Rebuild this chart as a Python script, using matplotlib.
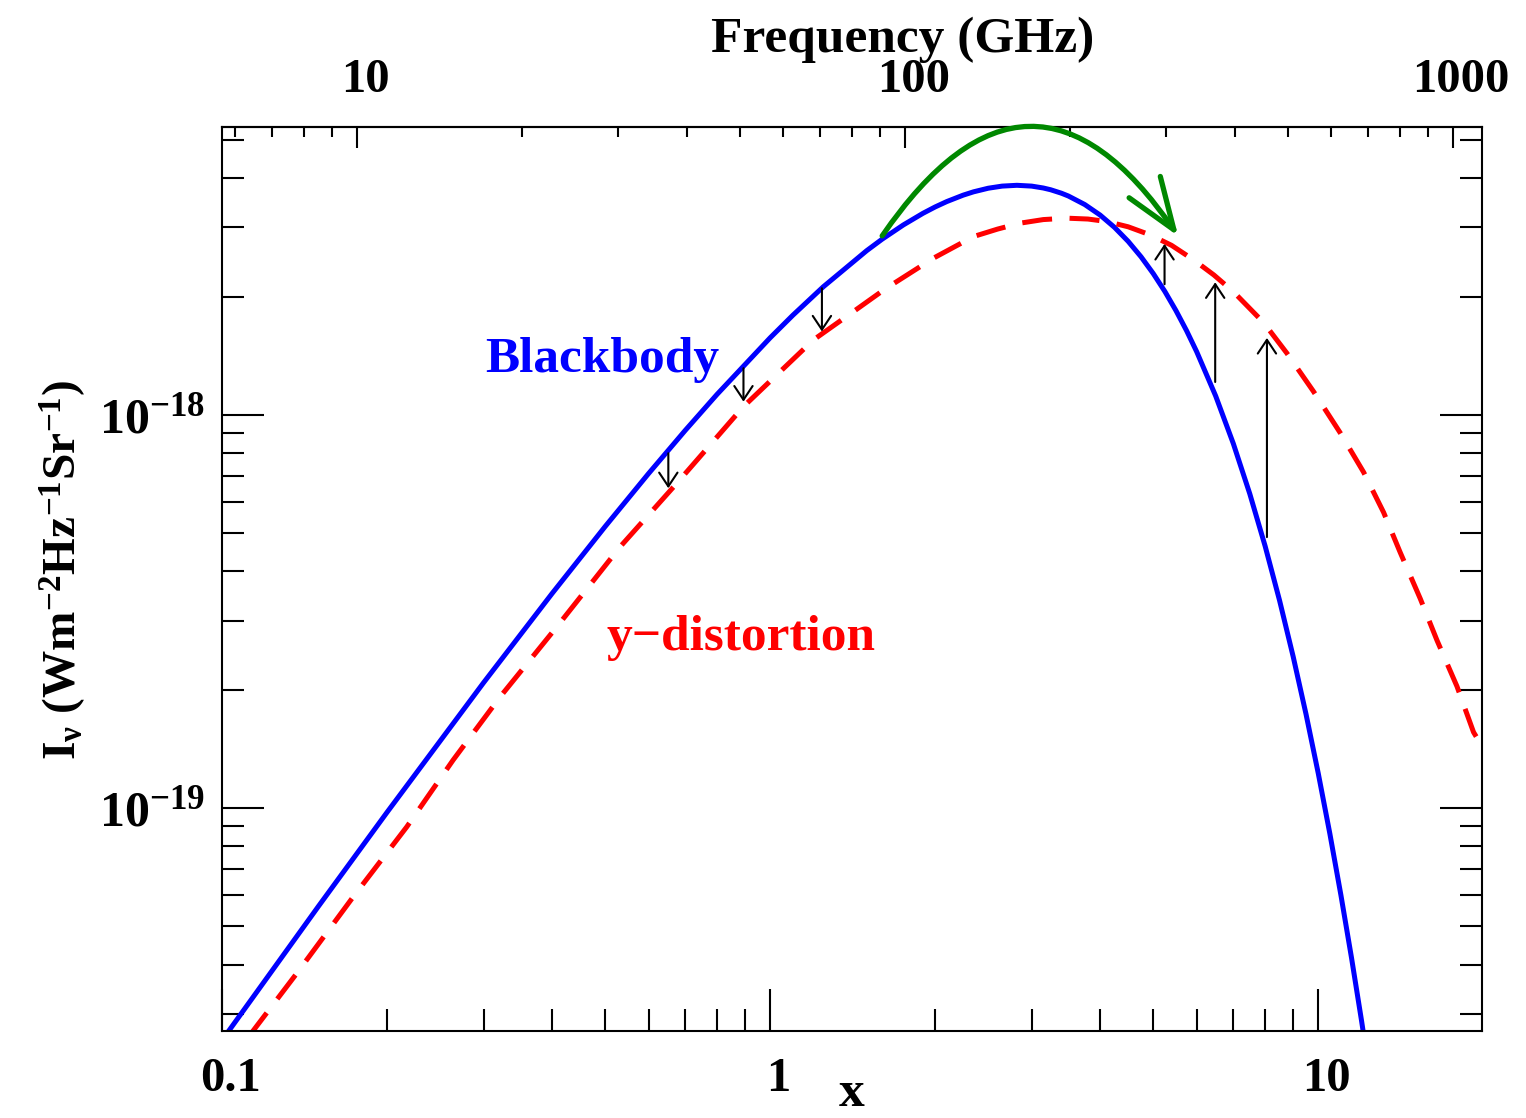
import matplotlib
matplotlib.use('Agg')
import matplotlib.pyplot as plt
from matplotlib import ticker
from matplotlib.transforms import ScaledTranslation

# Blackbody spectrum (x = h nu / k T)
bb_x = [0.1, 0.15, 0.2, 0.3, 0.4, 0.5, 0.6, 0.7, 0.8, 1.0, 1.1, 1.25, 1.5,
        1.6, 1.75, 1.9, 2.0, 2.1, 2.25, 2.35, 2.5, 2.65, 2.82, 3.0, 3.15,
        3.25, 3.4, 3.5, 3.75, 4.0, 4.25, 4.5, 4.75, 5.0, 5.25, 5.5, 5.75,
        6.0, 6.5, 7.0, 7.5, 8.0, 8.5, 9.0, 9.5, 10.0, 10.5, 11.0, 11.5, 12.0,
        12.5]
bb_I = [2.567e-20, 5.631e-20, 9.756e-20, 2.084e-19, 3.513e-19, 5.202e-19,
        7.094e-19, 9.135e-19, 1.128e-18, 1.571e-18, 1.793e-18, 2.118e-18,
        2.617e-18, 2.798e-18, 3.043e-18, 3.257e-18, 3.381e-18, 3.489e-18,
        3.623e-18, 3.694e-18, 3.773e-18, 3.820e-18, 3.838e-18, 3.820e-18,
        3.778e-18, 3.739e-18, 3.664e-18, 3.605e-18, 3.429e-18, 3.224e-18,
        2.999e-18, 2.764e-18, 2.525e-18, 2.289e-18, 2.061e-18, 1.843e-18,
        1.639e-18, 1.449e-18, 1.117e-18, 8.452e-19, 6.303e-19, 4.639e-19,
        3.374e-19, 2.429e-19, 1.733e-19, 1.226e-19, 8.607e-20, 6.002e-20,
        4.160e-20, 2.867e-20, 1.965e-20]

# y-distorted spectrum (red dashed)
yd_x = [0.1, 0.1141, 0.1369, 0.1734, 0.2173, 0.264, 0.3217, 0.4082, 0.5325,
        0.6755, 0.8939, 1.1995, 1.419, 1.62, 1.986, 2.35, 2.6, 2.859, 3.15,
        3.478, 3.8, 4.116, 4.5, 4.936, 5.4, 5.924, 6.45, 7.006, 7.947, 8.768,
        9.804, 10.97, 12.1, 13.16, 14.11, 15.35, 16.47, 17.91, 19.2, 19.7]
yd_I = [2.08e-20, 2.72e-20, 3.80e-20, 5.94e-20, 8.96e-20, 1.325e-19,
        1.919e-19, 2.892e-19, 4.62e-19, 6.70e-19, 1.05e-18, 1.552e-18,
        1.832e-18, 2.09e-18, 2.505e-18, 2.843e-18, 2.97e-18, 3.075e-18,
        3.14e-18, 3.166e-18, 3.15e-18, 3.104e-18, 3.01e-18, 2.871e-18,
        2.70e-18, 2.480e-18, 2.27e-18, 2.056e-18, 1.718e-18, 1.435e-18,
        1.147e-18, 9.0e-19, 7.15e-19, 5.65e-19, 4.47e-19, 3.41e-19, 2.67e-19,
        2.04e-19, 1.56e-19, 1.47e-19]

# black arrows: photons removed at low x, added at high x
down_x = [0.652, 0.894, 1.243]
down_from = [7.99e-19, 1.315e-18, 2.10e-18]
down_to = [6.51e-19, 1.081e-18, 1.630e-18]
up_x = [5.243, 6.486, 8.061]
up_from = [2.150e-18, 1.213e-18, 4.89e-19]
up_to = [2.723e-18, 2.175e-18, 1.570e-18]

# green arc: shift of the spectrum to higher frequencies
green_from = (1.601, 2.854e-18)
green_to = (5.553, 2.85e-18)

GHZ_PER_X = 56.78   # k T / h for T = 2.725 K, in GHz

plt.rcParams['font.family'] = 'serif'
plt.rcParams['font.serif'] = ['Liberation Serif']
plt.rcParams['font.weight'] = 'bold'
plt.rcParams['axes.labelweight'] = 'bold'
plt.rcParams['mathtext.fontset'] = 'custom'
plt.rcParams['mathtext.rm'] = 'Liberation Serif:bold'
plt.rcParams['mathtext.it'] = 'Liberation Serif:italic:bold'
plt.rcParams['mathtext.bf'] = 'Liberation Serif:bold'

fig = plt.figure(figsize=(15.26, 11.18), dpi=100)
ax = fig.add_axes([0.1455, 0.0778, 0.8257, 0.8086])

ax.plot(bb_x, bb_I, color='#0000ff', lw=3.6)
ax.plot(yd_x, yd_I, color='#ff0000', lw=3.6, ls=(0, (6, 3.5)))

ax.set_xscale('log')
ax.set_yscale('log')
ax.set_xlim(0.1, 19.9)
ax.set_ylim(2.71e-20, 5.4e-18)

for s in ax.spines.values():
    s.set_linewidth(1.5)

fmt = ticker.FuncFormatter(lambda v, p: f'{v:g}')
ax.xaxis.set_major_formatter(fmt)
ax.xaxis.set_minor_formatter(ticker.NullFormatter())
ax.yaxis.set_minor_formatter(ticker.NullFormatter())
ax.tick_params(which='both', direction='in', top=False, right=True,
               width=1.5, labelsize=35)
ax.tick_params(which='major', length=30)
ax.tick_params(which='minor', length=16)
ax.tick_params(axis='x', pad=19)
ax.tick_params(axis='y', pad=12, labelsize=36)

secax = ax.secondary_xaxis('top', functions=(lambda x: x * GHZ_PER_X,
                                              lambda v: v / GHZ_PER_X))
secax.xaxis.set_major_formatter(fmt)
secax.xaxis.set_minor_formatter(ticker.NullFormatter())
secax.tick_params(which='both', direction='in', width=1.5, labelsize=35, pad=18)
secax.tick_params(which='major', length=15)
secax.tick_params(which='minor', length=7.5)
secax.spines['top'].set_linewidth(1.5)
secax.set_xlabel('Frequency (GHz)', fontsize=37, fontweight='bold', labelpad=4)
secax.xaxis.label.set_x(0.54)

ax.set_xlabel('x', fontsize=37, fontweight='bold', labelpad=-22)
ax.set_ylabel(r'$\mathrm{I_{\nu}\ (Wm^{-2}Hz^{-1}Sr^{-1})}$', fontsize=34,
              labelpad=8)
ax.yaxis.label.set_y(0.51)

# tick labels sit a little right of their ticks in the original
shift = ScaledTranslation(6 / 72, 0, fig.dpi_scale_trans)
for lab in ax.get_xticklabels() + secax.get_xticklabels():
    lab.set_transform(lab.get_transform() + shift)

# arrows
head = '->,head_length=0.45,head_width=0.3'
for x, a, b in zip(down_x, down_from, down_to):
    ax.annotate('', xy=(x, b), xytext=(x, a),
                arrowprops=dict(arrowstyle=head, color='k', lw=1.5,
                                shrinkA=0, shrinkB=0, mutation_scale=22))
for x, a, b in zip(up_x, up_from, up_to):
    ax.annotate('', xy=(x, b), xytext=(x, a),
                arrowprops=dict(arrowstyle=head, color='k', lw=1.5,
                                shrinkA=0, shrinkB=0, mutation_scale=22))

ax.annotate('', xy=green_to, xytext=green_from,
            arrowprops=dict(arrowstyle='->,head_length=0.93,head_width=0.34',
                            color='#008800', lw=3.8, shrinkA=0, shrinkB=0,
                            mutation_scale=40,
                            connectionstyle='arc3,rad=-0.73'))

ax.text(0.4936, 1.38e-18, 'Blackbody', color='#0000ff', fontsize=37,
        ha='center', va='center')
ax.text(0.8853, 2.708e-19, 'y\u2212distortion', color='#ff0000', fontsize=37,
        ha='center', va='center')

fig.savefig('out.png', dpi=100)
